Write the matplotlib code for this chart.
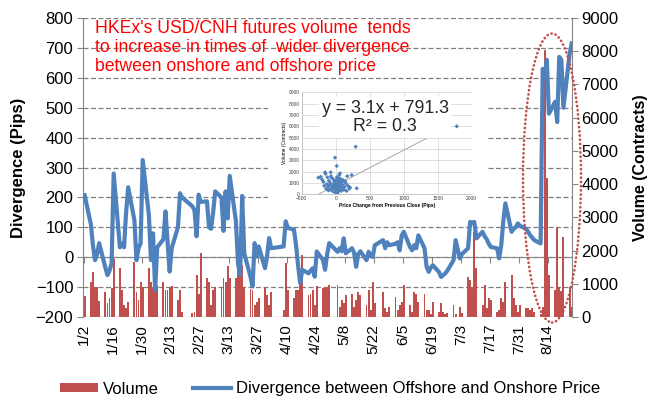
import matplotlib
matplotlib.use('Agg')
import matplotlib.pyplot as plt
import matplotlib.dates as mdates
from matplotlib.patches import Ellipse
import pandas as pd
import numpy as np

plt.rcParams['font.family'] = ['Liberation Sans', 'DejaVu Sans']

# ---------------- data ----------------
holidays = ['2015-01-01', '2015-02-19', '2015-02-20', '2015-04-03', '2015-04-06',
            '2015-04-07', '2015-05-01', '2015-05-25', '2015-07-01']
dates = pd.bdate_range('2015-01-02', '2015-08-25', freq='C', holidays=holidays)

div_jan = [207, 110, 40, -10, 10, 47, -35, -60, -45, -20, 280, 33, 45, 33, 150, 234, 124, -10, 30, 47, 325]
div_feb = [140, -10, 80, -110, 33, 60, 153, 50, -48, 30, 100, 214, 200, 170, 157, 70, 209, 185]
div_mar = [187, 100, 95, 150, 220, 200, 88, 220, 130, 272, 120, -21, -60, 205, 13, -65, -98, 47, 2, 36, -37, 2]
div_apr = [64, 30, 36, 120, 98, 92, 40, -30, -87, -42, -54, -45, -37, -65, 19, -9, -42, 10, 47]
div_may = [18, 30, 20, 63, 13, 30, 15, -32, 10, 20, -10, 18, 5, 1, 40, 57, 30, 50, 40]
div_jun = [45, 50, 23, 73, 85, 34, 23, 40, 30, 73, 30, -32, -49, -35, -27, -50, -66, -60, -54, -45, -10, 57]
div_jul = [-4, 10, 30, 118, 115, 118, 63, 85, 70, 60, 45, 34, 30, -4, 40, 120, 180, 85, 95, 100, 113, 105]
div_aug = [95, 85, 73, 65, 57, 46, 630, 600, 660, 480, 520, 452, 670, 660, 500, 680, 715]

vol_jan = [630, 1060, 1360, 910, 900, 490, 760, 410, 560, 860, 1740, 1470, 810, 360, 270, 460, 1650, 760, 500, 1060, 910]
vol_feb = [1470, 1060, 860, 910, 960, 1060, 810, 810, 910, 930, 510, 810, 150, 130, 150, 1260, 700, 1920]
vol_mar = [1160, 1060, 360, 810, 910, 910, 1160, 1060, 1540, 1160, 1160, 1770, 1570, 1570, 900, 840, 810, 360, 450, 560, 910, 660]
vol_apr = [360, 760, 200, 1620, 810, 560, 810, 810, 1100, 1870, 660, 700, 810, 360, 930, 860, 880, 900, 960]
vol_may = [960, 300, 500, 410, 660, 700, 290, 500, 760, 660, 360, 810, 200, 1060, 410, 760, 260, 150, 310]
vol_jun = [610, 200, 360, 460, 960, 360, 150, 760, 700, 460, 700, 210, 210, 100, 460, 160, 410, 160, 80, 110, 360, 100]
vol_jul = [310, 110, 1210, 1110, 910, 2570, 1470, 360, 960, 260, 560, 510, 150, 210, 560, 460, 1060, 1260, 560, 360, 150, 360]
vol_aug = [260, 260, 200, 260, 160, 100, 300, 8040, 4180, 1260, 810, 2670, 900, 790, 2420, 900, 300]

divergence = div_jan + div_feb + div_mar + div_apr + div_may + div_jun + div_jul + div_aug
volume = vol_jan + vol_feb + vol_mar + vol_apr + vol_may + vol_jun + vol_jul + vol_aug

tick_labels = ['1/2', '1/16', '1/30', '2/13', '2/27', '3/13', '3/27', '4/10', '4/24',
               '5/8', '5/22', '6/5', '6/19', '7/3', '7/17', '7/31', '8/14']

# inset scatter: price change vs volume
scatter_x = [1780, 294, -10, 15, -157, -74, -255, 64, 235, 309, 211,
             -220, -200, -180, -150, -130, -120, -110, -100, -90, -80, -70, -60, -50, -40,
             -30, -20, -10, 0, 5, 10, 15, 20, 25, 30, 35, 40, 50, 55, 60, 70, 80, 90,
             100, 110, 120, 130, 150, 160, 180, 200, -140, -170, -60, -20, 10, 45, 75,
             95, 140, 170, -90, -40, 0, 20, 40, 60, -110, 0, 30, -20]
scatter_y = [6000, 4200, 3235, 2500, 1940, 1940, 1470, 1850, 1700, 530, 590,
             1550, 1300, 1100, 1800, 900, 1500, 700, 1200, 400, 1000, 1600, 600, 300, 850,
             1300, 500, 150, 700, 1000, 350, 1500, 800, 200, 1150, 550, 900, 1700, 450, 750,
             1050, 300, 600, 850, 1250, 400, 650, 950, 300, 750, 500, 500, 750, 1450, 1100,
             1250, 1400, 1350, 1100, 1150, 1600, 800, 600, 450, 600, 300, 1200, 350, 950, 50, 800]
fit_slope = 3.1
fit_intercept = 791.3
fit_r2 = 0.3
fit_x_range = [-255, 1330]

# ---------------- figure ----------------
W, H = 649, 403
fig = plt.figure(figsize=(W / 100, H / 100), dpi=100)

ax = fig.add_axes([83 / W, 1 - 317 / H, (571.7 - 83) / W, 299 / H])
x = mdates.date2num(dates) + 0.5
x0 = mdates.date2num(pd.Timestamp('2015-01-02'))
x1 = mdates.date2num(pd.Timestamp('2015-08-25'))
ax.set_xlim(x0 - 0.3, x1 + 0.5)
ax.set_ylim(-200, 800)
ax.set_yticks(range(-200, 801, 100))
ax.yaxis.grid(True, linestyle=(0, (4, 2)), color='#7f7f7f', linewidth=0.9)
ax.set_axisbelow(True)

gray = '#868686'
for s in ['top', 'right']:
    ax.spines[s].set_visible(False)
ax.spines['left'].set_color(gray)
ax.spines['bottom'].set_color(gray)
ax.spines['bottom'].set_position(('data', 0))

tick_nums = mdates.date2num(pd.to_datetime(['2015/' + t for t in tick_labels], format='%Y/%m/%d'))
ax.set_xticks(tick_nums)
ax.tick_params(axis='x', direction='out', length=4, color=gray, labelbottom=False)
ax.tick_params(axis='y', direction='out', length=4, color=gray, labelsize=12, pad=3)

sec = ax.secondary_xaxis(0.0)
sec.set_xticks(tick_nums, tick_labels)
sec.tick_params(length=0, labelrotation=90, labelsize=11, pad=5)
sec.spines['bottom'].set_visible(False)

ax.set_ylabel('Divergence (Pips)', fontsize=12, fontweight='bold')
ax.yaxis.set_label_coords((26 - 83) / 488.7, 0.5)

ax2 = ax.twinx()
ax2.set_ylim(0, 9000)
ax2.set_yticks(range(0, 9001, 1000))
for s in ['top', 'bottom', 'left']:
    ax2.spines[s].set_visible(False)
ax2.spines['right'].set_color(gray)
ax2.tick_params(axis='y', direction='out', length=4, color=gray, labelsize=12, pad=3)
bars = ax2.bar(x, volume, width=0.9, color='#C0504D', label='Volume')
ax2.set_ylabel('Volume (Contracts)', fontsize=11.5, fontweight='bold')
ax2.yaxis.set_label_coords((633 - 83) / 488.7, 0.5)

ax3 = ax.twinx()
ax3.set_ylim(-200, 800)
ax3.axis('off')
line, = ax3.plot(x, divergence, color='#4F81BD', lw=3, solid_joinstyle='round',
                 label='Divergence between Offshore and Onshore Price')

fig.text(95 / W, 1 - 20 / H,
         "HKEx's USD/CNH futures volume  tends\nto increase in times of  wider divergence\nbetween onshore and offshore price",
         color='#FF0000', fontsize=12.7, va='top', ha='left', linespacing=1.15)

# ---------------- inset ----------------
bg = fig.add_axes([268 / W, 1 - 210 / H, 219 / W, 122 / H])
bg.set_facecolor('white')
bg.set_xticks([])
bg.set_yticks([])
for s in bg.spines.values():
    s.set_visible(False)
bg.set_zorder(6)

ins = fig.add_axes([301.7 / W, 1 - 194.3 / H, 170 / W, 102 / H])
ins.set_zorder(7)
ins.set_xlim(-500, 2000)
ins.set_ylim(0, 9000)
ins.set_xticks(range(-500, 2001, 500))
ins.set_yticks(range(0, 9001, 1000))
ins.grid(color='#D9D9D9', lw=0.6)
ins.set_axisbelow(True)
ins.tick_params(labelsize=3.5, length=0, pad=1.5, colors='#404040')
for s in ['top', 'right']:
    ins.spines[s].set_visible(False)
for s in ['left', 'bottom']:
    ins.spines[s].set_color('#BFBFBF')
    ins.spines[s].set_linewidth(0.6)
ins.scatter(scatter_x, scatter_y, marker='D', s=5, color='#4F81BD', edgecolors='none', zorder=3)
fx = np.array(fit_x_range, dtype=float)
ins.plot(fx, fit_slope * fx + fit_intercept, color='#A6A6A6', lw=0.7, zorder=2)
ins.set_xlabel('Price Change from Previous Close (Pips)', fontsize=3.5, fontweight='bold', labelpad=1.5)
ins.set_ylabel('Volume (Contracts)', fontsize=3.5, labelpad=1.5)
ins.text(0.49, 0.755, f'y = {fit_slope}x + {fit_intercept}\nR² = {fit_r2}', transform=ins.transAxes,
         ha='center', va='center', multialignment='center', fontsize=12.8, color='#262626',
         linespacing=1.1, zorder=5,
         bbox=dict(facecolor='white', edgecolor='none', pad=2))

# ---------------- ellipse ----------------
ell = Ellipse((552 / W, 1 - 178 / H), 58 / W, 289 / H, transform=fig.transFigure,
              fill=False, edgecolor='#C0504D', lw=1.9, linestyle=(0, (0.1, 1.5)),
              capstyle='round', zorder=20)
fig.add_artist(ell)

# ---------------- legend ----------------
fig.legend([bars, line], ['Volume', 'Divergence between Offshore and Onshore Price'],
           loc='center', bbox_to_anchor=(330 / W, 1 - 389 / H), ncol=2, frameon=False,
           fontsize=12, handlelength=2.3, handleheight=0.5, handletextpad=0.3, columnspacing=2.0)

fig.savefig('out.png', dpi=100)
